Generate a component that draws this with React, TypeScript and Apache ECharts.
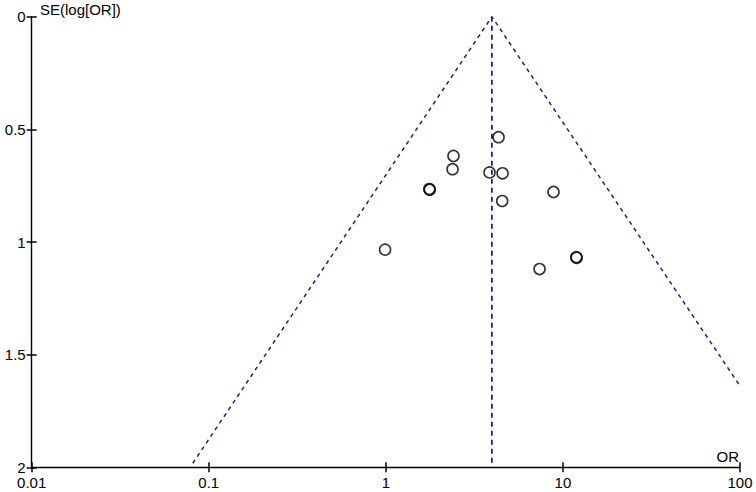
import React, { useEffect, useRef } from "react";
import * as echarts from "echarts";

// Study estimates: odds ratio and standard error of log(OR)
const studyOR = [4.33, 2.41, 2.38, 3.85, 4.56, 1.76, 1.77, 8.85, 4.54, 0.99, 11.9, 11.95, 7.38];
const studySE = [0.535, 0.618, 0.677, 0.691, 0.695, 0.765, 0.768, 0.778, 0.818, 1.034, 1.067, 1.07, 1.12];

// Pooled estimate and pseudo 95% confidence limits
const pooledOR = 3.97;
const funnelOR = [0.0812, 3.97, 100];
const funnelSE = [1.982, 0, 1.639];
const verticalSE = [0, 1.98];

const xTicks = [0.01, 0.1, 1, 10, 100];
const yTicks = [0, 0.5, 1, 1.5, 2];

const LINE_COLOR = "#1f1f8a";
const FONT = "'Liberation Sans', Arial, sans-serif";

export default function App() {
  const ref = useRef<HTMLDivElement>(null);
  useEffect(() => {
    if (!ref.current) return;
    const chart = echarts.init(ref.current, undefined, { renderer: "svg" });
    const points = studyOR.map((o, i) => [o, studySE[i]]);
    const funnel = funnelOR.map((o, i) => [o, funnelSE[i]]);
    const vertical = verticalSE.map((s) => [pooledOR, s]);
    const fmtX = (v: number) => {
      const r = xTicks.find((t) => Math.abs(t - v) / t < 1e-6);
      return r !== undefined ? String(r) : "";
    };
    const fmtY = (v: number) => String(v);
    const tickStyle = { color: "#000", width: 1.5 };
    const baseX = {
      type: "log" as const,
      logBase: 10,
      min: xTicks[0],
      max: xTicks[xTicks.length - 1],
      position: "bottom" as const,
      splitLine: { show: false },
      minorTick: { show: false },
    };
    const baseY = {
      type: "value" as const,
      inverse: true,
      min: yTicks[0],
      max: yTicks[yTicks.length - 1],
      interval: 0.5,
      position: "left" as const,
      splitLine: { show: false },
    };
    chart.setOption({
      animation: false,
      backgroundColor: "#ffffff",
      grid: { left: 31.7, right: 16, top: 16.7, bottom: 24.7, containLabel: false },
      xAxis: [
        {
          ...baseX,
          axisLine: { show: true, onZero: false, lineStyle: { color: "#000", width: 1.4 } },
          axisTick: { show: true, inside: false, length: 5, lineStyle: tickStyle },
          axisLabel: {
            show: true,
            formatter: fmtX,
            color: "#000",
            fontSize: 15,
            fontFamily: FONT,
            margin: 8,
            showMinLabel: true,
            showMaxLabel: true,
          },
          z: 5,
        },
        {
          ...baseX,
          axisLine: { show: false, onZero: false },
          axisTick: { show: true, inside: true, length: 5, lineStyle: tickStyle },
          axisLabel: { show: false },
          z: 5,
        },
      ],
      yAxis: [
        {
          ...baseY,
          axisLine: { show: true, onZero: false, lineStyle: { color: "#000", width: 1.4 } },
          axisTick: { show: true, inside: false, length: 5, lineStyle: tickStyle },
          axisLabel: {
            show: true,
            formatter: fmtY,
            color: "#000",
            fontSize: 15,
            fontFamily: FONT,
            margin: 6,
            verticalAlign: "middle",
            padding: [5, 0, 0, 0],
            showMinLabel: true,
            showMaxLabel: true,
          },
          z: 5,
        },
        {
          ...baseY,
          axisLine: { show: false, onZero: false },
          axisTick: { show: true, inside: true, length: 5, lineStyle: tickStyle },
          axisLabel: { show: false },
          z: 5,
        },
      ],
      graphic: [
        {
          type: "text",
          left: 40,
          top: 2,
          style: { text: "SE(log[OR])", fill: "#000", font: `15px ${FONT}` },
        },
        {
          type: "text",
          right: 17,
          top: 449,
          style: { text: "OR", fill: "#000", font: `15px ${FONT}` },
        },
      ],
      series: [
        {
          type: "line",
          xAxisIndex: 0,
          yAxisIndex: 0,
          data: funnel,
          symbol: "none",
          lineStyle: { color: LINE_COLOR, width: 1.5, type: [4, 4] },
          silent: true,
          z: 1,
        },
        {
          type: "line",
          xAxisIndex: 0,
          yAxisIndex: 0,
          data: vertical,
          symbol: "none",
          lineStyle: { color: LINE_COLOR, width: 1.8, type: [5, 4] },
          silent: true,
          z: 1,
        },
        {
          type: "scatter",
          xAxisIndex: 0,
          yAxisIndex: 0,
          data: points,
          symbol: "circle",
          symbolSize: 11,
          itemStyle: { color: "rgba(255,255,255,0)", borderColor: "#000", borderWidth: 1.6 },
          z: 3,
        },
      ],
    });
    return () => chart.dispose();
  }, []);
  return <div ref={ref} style={{ width: 756, height: 492, position: "absolute", left: 0, top: 0 }} />;
}
